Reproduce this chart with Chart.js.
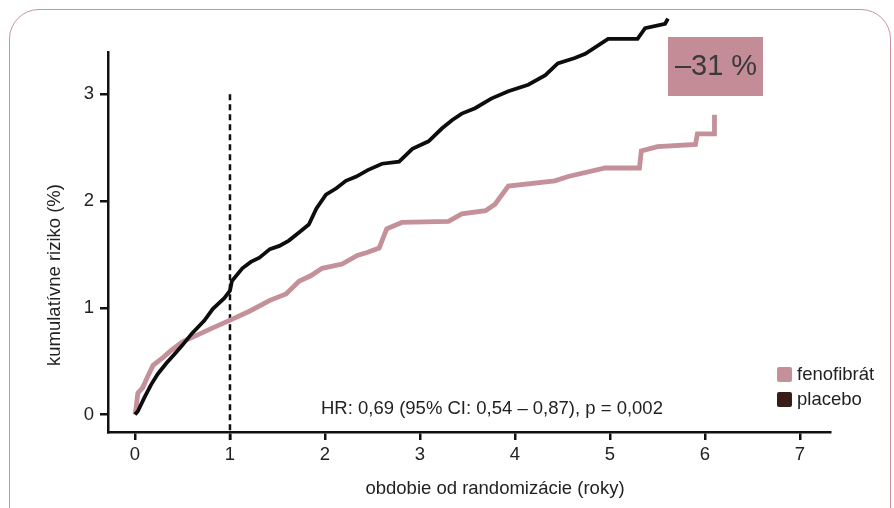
<!DOCTYPE html>
<html><head><meta charset="utf-8">
<script src="https://cdn.jsdelivr.net/npm/chart.js@4"></script>
<style>
html,body{margin:0;padding:0;background:#fff;}
#wrap{position:relative;width:894px;height:508px;overflow:hidden;}
#frame{position:absolute;left:9px;top:9px;width:880px;height:560px;border:1.3px solid #c9959e;border-radius:30px 30px 0 0;}
canvas{position:absolute;left:0;top:0;}
</style></head><body>
<div id="wrap"><div id="frame"></div><canvas id="c" width="894" height="508"></canvas></div>
<script>
const FONT = "'Liberation Sans', Arial, sans-serif";

const placeboX = [0,0.03,0.10,0.17,0.24,0.33,0.42,0.50,0.60,0.73,0.82,0.94,1.00,1.02,1.13,1.22,1.31,1.42,1.52,1.62,1.72,1.83,1.91,2.01,2.12,2.22,2.33,2.45,2.60,2.78,2.92,3.09,3.23,3.34,3.44,3.58,3.75,3.93,4.14,4.32,4.45,4.63,4.74,4.98,5.29,5.37,5.58,5.61];
const placeboY = [0,0.03,0.16,0.28,0.38,0.48,0.57,0.65,0.76,0.88,0.99,1.09,1.16,1.25,1.37,1.43,1.47,1.55,1.58,1.63,1.70,1.78,1.93,2.06,2.12,2.19,2.23,2.29,2.35,2.37,2.49,2.56,2.68,2.76,2.82,2.87,2.96,3.03,3.09,3.18,3.29,3.34,3.38,3.52,3.52,3.62,3.66,3.71];

const fenoX = [0,0.01,0.03,0.08,0.13,0.19,0.29,0.38,0.50,0.62,0.79,0.99,1.21,1.42,1.59,1.73,1.85,1.97,2.18,2.34,2.45,2.57,2.65,2.81,3.30,3.44,3.69,3.79,3.93,4.42,4.56,4.95,5.31,5.33,5.50,5.90,5.92,6.10,6.10];
const fenoY = [0,0.05,0.20,0.25,0.35,0.46,0.53,0.60,0.68,0.73,0.80,0.88,0.97,1.07,1.13,1.25,1.30,1.37,1.41,1.49,1.52,1.56,1.74,1.80,1.81,1.88,1.91,1.97,2.14,2.19,2.23,2.31,2.31,2.47,2.51,2.53,2.63,2.63,2.81];

const xTicks = [0,1,2,3,4,5,6,7];
const yTicks = [0,1,2,3];
const cutoffX = 1;
const cutoffTop = 3.0;
const seriesLabels = ['fenofibrát','placebo'];
const legendColors = ['#c4909a','#3a1c16'];
const reductionLabel = '–31 %';
const hrLabel = 'HR: 0,69 (95% CI: 0,54 – 0,87), p = 0,002';
const xTitle = 'obdobie od randomizácie (roky)';
const yTitle = 'kumulatívne riziko (%)';

const toPts = (xs, ys) => xs.map((x, i) => ({x, y: ys[i]}));

const annotPlugin = {
  id: 'annot',
  afterDatasetsDraw(chart) {
    const ctx = chart.ctx;
    ctx.save();
    // reduction box
    ctx.fillStyle = '#c48c96';
    ctx.fillRect(668, 37, 95, 59);
    ctx.fillStyle = '#3a3a3a';
    ctx.font = '29px ' + FONT;
    ctx.textAlign = 'center';
    ctx.textBaseline = 'middle';
    ctx.fillText(reductionLabel, 716, 67);
    // HR text
    ctx.fillStyle = '#222';
    ctx.font = '18.5px ' + FONT;
    ctx.textAlign = 'left';
    ctx.fillText(hrLabel, 321, 409);
    // legend
    seriesLabels.forEach((lab, i) => {
      const y = 375 + i * 25;
      ctx.fillStyle = legendColors[i];
      ctx.beginPath();
      if (ctx.roundRect) ctx.roundRect(777, y - 8, 15, 15, 2); else ctx.rect(777, y - 8, 15, 15);
      ctx.fill();
      ctx.fillStyle = '#222';
      ctx.font = '18.5px ' + FONT;
      ctx.textAlign = 'left';
      ctx.fillText(lab, 797, y);
    });
    // axis titles
    ctx.fillStyle = '#222';
    ctx.font = '18.5px ' + FONT;
    ctx.textAlign = 'center';
    ctx.fillText(xTitle, 495, 489);
    ctx.translate(55, 275);
    ctx.rotate(-Math.PI / 2);
    ctx.fillText(yTitle, 0, 0);
    ctx.restore();
  }
};

new Chart(document.getElementById('c'), {
  type: 'line',
  data: {
    datasets: [
      {
        label: seriesLabels[1],
        data: toPts(placeboX, placeboY),
        borderColor: '#0d0d0d',
        borderWidth: 3.8,
        pointRadius: 0,
        tension: 0,
        fill: false,
        clip: false
      },
      {
        label: seriesLabels[0],
        data: toPts(fenoX, fenoY),
        borderColor: '#c4909a',
        borderWidth: 4.8,
        pointRadius: 0,
        tension: 0,
        fill: false
      },
      {
        label: 'cutoff',
        data: [{x: cutoffX, y: cutoffTop}, {x: cutoffX, y: -0.24}],
        borderColor: '#111',
        borderWidth: 2.5,
        borderDash: [6, 4],
        pointRadius: 0,
        fill: false,
        clip: false
      }
    ]
  },
  options: {
    responsive: false,
    animation: false,
    layout: {padding: {top: 52, right: 64, left: 0, bottom: 0}},
    plugins: {legend: {display: false}, tooltip: {enabled: false}},
    scales: {
      x: {
        type: 'linear',
        min: -0.284, max: 7.316,
        afterBuildTicks: s => { s.ticks = xTicks.map(v => ({value: v})); },
        afterFit: s => { s.height = 76; },
        grid: {drawOnChartArea: false, drawTicks: true, tickLength: 8, lineWidth: 2.5, color: '#111'},
        border: {display: true, color: '#111', width: 2.5},
        ticks: {font: {size: 18.5, family: FONT}, color: '#222', padding: 4, maxRotation: 0},
        title: {display: false}
      },
      y: {
        type: 'linear',
        min: -0.164, max: 3.397,
        afterBuildTicks: s => { s.ticks = yTicks.map(v => ({value: v})); },
        afterFit: s => { s.width = 108; },
        grid: {drawOnChartArea: false, drawTicks: true, tickLength: 8, lineWidth: 2.5, color: '#111'},
        border: {display: true, color: '#111', width: 2.5},
        ticks: {font: {size: 18.5, family: FONT}, color: '#222', padding: 6},
        title: {display: false}
      }
    }
  },
  plugins: [annotPlugin]
});
</script>
</body></html>
